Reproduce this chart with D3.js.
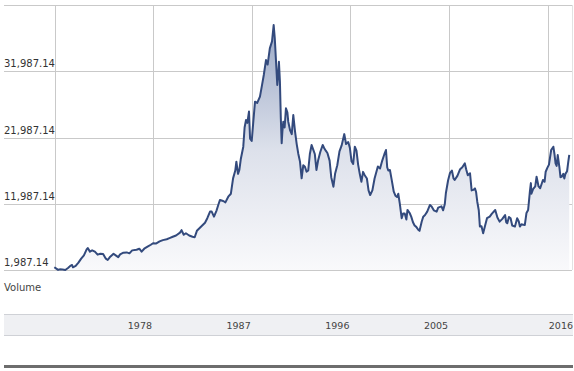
<!DOCTYPE html>
<html>
  <head>
    <meta charset="UTF-8">
    <title>Index history</title>
    <script src="https://d3js.org/d3.v7.min.js"></script>
    <style>
      body { margin: 0; background: #fff; }
      text { font-family: "DejaVu Sans", Verdana, sans-serif; }
    </style>
  </head>
  <body>
    <svg width="574" height="371"></svg>

    <script>

// decimal years and index closes
const dates = [
  1970.00, 1970.15, 1970.35, 1970.50, 1970.75, 1971.00, 1971.25, 1971.50, 1971.62, 1971.70,
  1971.95, 1972.20, 1972.45, 1972.70, 1972.95, 1973.05, 1973.25, 1973.45, 1973.70, 1973.95,
  1974.20, 1974.45, 1974.70, 1974.87, 1975.05, 1975.40, 1975.60, 1975.83, 1976.00, 1976.30,
  1976.60, 1976.85, 1977.10, 1977.50, 1977.75, 1977.96, 1978.20, 1978.50, 1978.80, 1979.00,
  1979.30, 1979.60, 1979.90, 1980.25, 1980.50, 1980.80, 1981.10, 1981.46, 1981.60, 1981.80,
  1982.00, 1982.30, 1982.60, 1982.80, 1983.00, 1983.30, 1983.60, 1983.74, 1983.95, 1984.20,
  1984.35, 1984.56, 1984.80, 1984.95, 1985.10, 1985.40, 1985.60, 1985.86, 1986.10, 1986.30,
  1986.50, 1986.60, 1986.75, 1986.87, 1987.00, 1987.23, 1987.35, 1987.48, 1987.60, 1987.75,
  1987.85, 1988.00, 1988.15, 1988.30, 1988.50, 1988.75, 1988.95, 1989.10, 1989.30, 1989.45,
  1989.65, 1989.85, 1990.00, 1990.10, 1990.20, 1990.33, 1990.42, 1990.48, 1990.57, 1990.65,
  1990.73, 1990.80, 1990.88, 1991.00, 1991.12, 1991.25, 1991.33, 1991.49, 1991.65, 1991.79,
  1991.95, 1992.10, 1992.25, 1992.40, 1992.55, 1992.70, 1992.85, 1993.00, 1993.15, 1993.30,
  1993.46, 1993.60, 1993.75, 1993.90, 1994.05, 1994.25, 1994.47, 1994.60, 1994.75, 1994.90,
  1995.10, 1995.25, 1995.45, 1995.60, 1995.80, 1996.00, 1996.20, 1996.44, 1996.60, 1996.80,
  1996.95, 1997.10, 1997.25, 1997.40, 1997.55, 1997.70, 1997.85, 1998.00, 1998.15, 1998.30,
  1998.50, 1998.65, 1998.80, 1999.00, 1999.20, 1999.50, 1999.70, 1999.90, 2000.10, 2000.24,
  2000.35, 2000.45, 2000.60, 2000.75, 2000.95, 2001.10, 2001.25, 2001.36, 2001.50, 2001.67,
  2001.80, 2001.95, 2002.10, 2002.20, 2002.40, 2002.55, 2002.70, 2002.85, 2003.00, 2003.20,
  2003.30, 2003.50, 2003.64, 2003.80, 2004.00, 2004.25, 2004.40, 2004.60, 2004.86, 2005.00,
  2005.30, 2005.45, 2005.60, 2005.70, 2005.90, 2006.07, 2006.25, 2006.40, 2006.50, 2006.75,
  2007.00, 2007.20, 2007.43, 2007.55, 2007.70, 2007.90, 2008.05, 2008.20, 2008.35, 2008.45,
  2008.56, 2008.70, 2008.80, 2008.95, 2009.10, 2009.25, 2009.45, 2009.70, 2009.90, 2010.20,
  2010.40, 2010.60, 2010.85, 2011.10, 2011.20, 2011.30, 2011.45, 2011.60, 2011.75, 2012.00,
  2012.20, 2012.35, 2012.45, 2012.60, 2012.75, 2012.90, 2013.05, 2013.20, 2013.36, 2013.45,
  2013.50, 2013.65, 2013.85, 2013.97, 2014.15, 2014.30, 2014.55, 2014.70, 2014.80, 2014.95,
  2015.10, 2015.30, 2015.50, 2015.60, 2015.70, 2015.80, 2015.90, 2016.05, 2016.15, 2016.26,
  2016.40, 2016.50, 2016.60, 2016.75, 2016.86, 2016.95
];

const closes = [
  2400, 2240, 2000, 2090, 2050, 1990, 2300, 2650, 2740, 2390,
  2600, 3100, 3700, 4200, 5110, 5300, 4760, 4950, 4760, 4300,
  4440, 4400, 3700, 3500, 3900, 4440, 4200, 3930, 4350, 4600,
  4640, 4500, 4950, 5050, 5200, 4760, 5200, 5500, 5800, 6030,
  6000, 6300, 6500, 6630, 6800, 7000, 7200, 7630, 8000, 7300,
  7530, 7200, 7000, 6930, 7900, 8400, 8900, 9130, 9800, 10800,
  10800, 10040, 11000, 11800, 12550, 12400, 12200, 13050, 13500, 15820,
  17000, 18330, 16500, 17080, 18700, 20600, 23500, 24630, 24200, 25900,
  21800, 21460, 24500, 27400, 27200, 28150, 30000, 31420, 33680, 33000,
  35440, 36500, 38970, 37000, 33930, 29910, 31500, 33430, 30420, 25000,
  21110, 23000, 24380, 23500, 26390, 25800, 24380, 23120, 22500, 25380,
  22870, 21000, 19500, 18350, 15830, 17800, 17580, 16820, 17000, 19500,
  20850, 20200, 19500, 17080, 18500, 19800, 20850, 20400, 20000, 19650,
  18500, 16000, 14560, 16500, 17800, 19900, 20800, 22500, 21000, 21300,
  20400, 18400, 18000, 20600, 20000, 17900, 16500, 15300, 16800, 16300,
  15800, 14000, 13300, 14000, 15800, 17600, 17300, 18500, 19500, 20100,
  17500, 17000, 17080, 15700, 13800, 13200, 13000, 13500, 12000, 9800,
  10500, 10500, 9600, 11050, 10590, 10000, 9200, 8700, 8500, 8030,
  7900, 9300, 10040, 10290, 10800, 11800, 11580, 11000, 10800, 11400,
  11600, 11000, 11900, 13570, 15500, 16600, 17000, 15800, 15570, 16200,
  17200, 17500, 18080, 17200, 16300, 16600, 14000, 14080, 14300, 13800,
  12330, 11000, 8560, 8600, 7530, 8500, 9800, 10040, 10500, 11040,
  9900, 9290, 9700, 10290, 9200, 9040, 10000, 9800, 8700, 8540,
  9800, 9300, 8540, 8900, 8800, 8790, 10600, 11040, 13820, 15100,
  13500, 14200, 14600, 16070, 14600, 14330, 15570, 15300, 16820, 17400,
  17900, 20100, 20600, 19500, 18080, 17700, 19340, 17500, 16000, 16070,
  16500, 15800, 16500, 16900, 18300, 19350
];

const yTicks = [1987.14, 11987.14, 21987.14, 31987.14, 41987.14];
const xGridYears = [1979, 1988, 1997, 2006, 2015];
const xTickLabels = ["1978", "1987", "1996", "2005", "2016"];

const data = dates.map((d, i) => ({ t: d, v: closes[i] }));

const svg = d3.select("svg");

const plotLeft = 55, plotRight = 572, plotTop = 5, plotBottom = 270;

const x = d3.scaleLinear().domain([1970, 2017.2]).range([54.3, 572]);
const y = d3.scaleLinear().domain([1987.14, 41987.14]).range([plotBottom, plotTop]);

// gradient for the area under the line
const grad = svg.append("defs").append("linearGradient")
  .attr("id", "fade")
  .attr("gradientUnits", "userSpaceOnUse")
  .attr("x1", 0).attr("y1", plotTop)
  .attr("x2", 0).attr("y2", plotBottom);
grad.append("stop").attr("offset", "0%").attr("stop-color", "#8f9fc0");
grad.append("stop").attr("offset", "55%").attr("stop-color", "#dde1eb");
grad.append("stop").attr("offset", "100%").attr("stop-color", "#f9f9fb");

// horizontal grid lines + value labels
const grid = svg.append("g");
grid.selectAll("line.h")
  .data(yTicks)
  .join("line")
  .attr("class", "h")
  .attr("x1", 4).attr("x2", plotRight)
  .attr("y1", d => Math.round(y(d)) + 0.5)
  .attr("y2", d => Math.round(y(d)) + 0.5)
  .attr("stroke", "#c9c9c9");

grid.selectAll("line.v")
  .data(xGridYears)
  .join("line")
  .attr("class", "v")
  .attr("x1", d => Math.round(x(d)) + 0.5)
  .attr("x2", d => Math.round(x(d)) + 0.5)
  .attr("y1", plotTop).attr("y2", plotBottom)
  .attr("stroke", "#c9c9c9");

grid.append("line")
  .attr("x1", plotLeft + 0.5).attr("x2", plotLeft + 0.5)
  .attr("y1", plotTop).attr("y2", plotBottom)
  .attr("stroke", "#c9c9c9");
grid.append("line")
  .attr("x1", plotRight + 0.5).attr("x2", plotRight + 0.5)
  .attr("y1", plotTop).attr("y2", plotBottom)
  .attr("stroke", "#e2e2e2");

svg.append("g").selectAll("text")
  .data(yTicks.slice(0, 4))
  .join("text")
  .attr("x", 4)
  .attr("y", d => y(d) - 4)
  .attr("font-size", 10)
  .attr("fill", "#333")
  .text(d => d3.format(",.2f")(d));

// area + line
svg.append("path")
  .datum(data)
  .attr("fill", "url(#fade)")
  .attr("d", d3.area().x(d => x(d.t)).y0(plotBottom).y1(d => y(d.v)));

svg.append("path")
  .datum(data)
  .attr("fill", "none")
  .attr("stroke", "#334a7d")
  .attr("stroke-width", 2)
  .attr("stroke-linejoin", "round")
  .attr("d", d3.line().x(d => x(d.t)).y(d => y(d.v)));

svg.append("text")
  .attr("x", 4).attr("y", 291)
  .attr("font-size", 10)
  .attr("fill", "#444")
  .text("Volume");

// navigator band with year labels
svg.append("rect")
  .attr("x", 4).attr("y", 314)
  .attr("width", 569).attr("height", 22)
  .attr("fill", "#eff0f3");
svg.append("line")
  .attr("x1", 4).attr("x2", 573).attr("y1", 314.5).attr("y2", 314.5)
  .attr("stroke", "#cfd1d6");
svg.append("line")
  .attr("x1", 4).attr("x2", 573).attr("y1", 335.5).attr("y2", 335.5)
  .attr("stroke", "#cfd1d6");

svg.append("g").selectAll("text")
  .data(xTickLabels)
  .join("text")
  .attr("x", (d, i) => i < 4 ? x(xGridYears[i]) - 1 : 573)
  .attr("y", 329)
  .attr("text-anchor", "end")
  .attr("font-size", 9.5)
  .attr("fill", "#444")
  .text(d => d);

svg.append("rect")
  .attr("x", 4).attr("y", 365)
  .attr("width", 569).attr("height", 3)
  .attr("fill", "#6d6d6d");

    </script>
  </body>
</html>
